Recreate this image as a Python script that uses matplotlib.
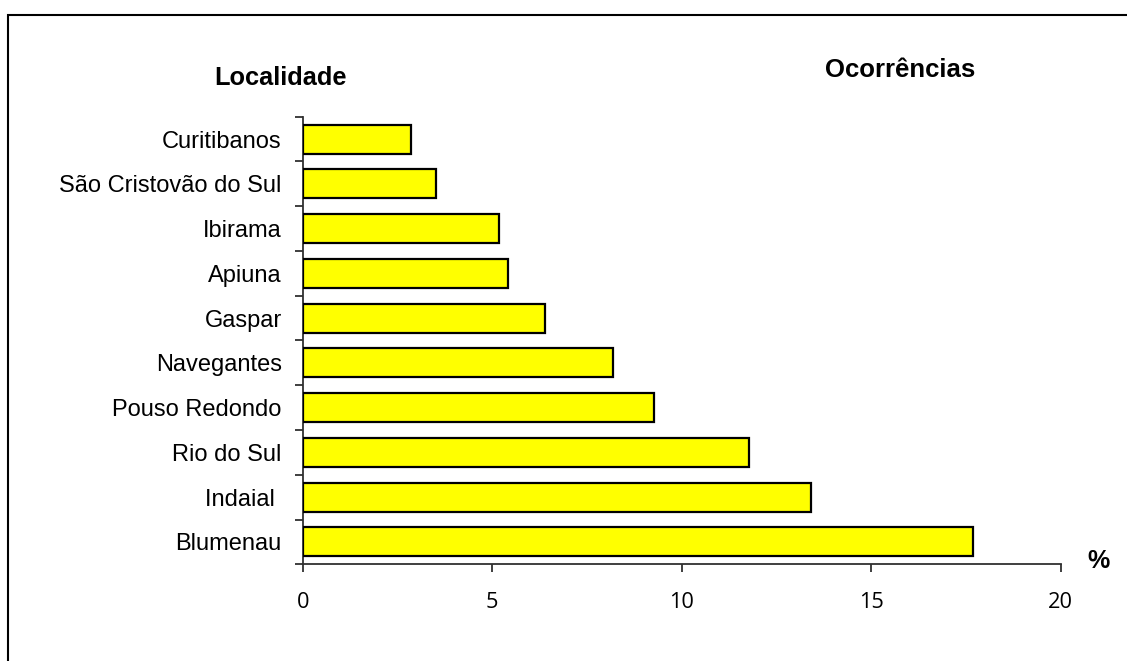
import matplotlib
matplotlib.use("Agg")
import matplotlib.pyplot as plt
from matplotlib.patches import Rectangle

categories = ["Curitibanos", "São Cristovão do Sul", "Ibirama", "Apiuna", "Gaspar",
              "Navegantes", "Pouso Redondo", "Rio do Sul", "Indaial ", "Blumenau"]
values = [2.86, 3.51, 5.18, 5.41, 6.39, 8.19, 9.26, 11.78, 13.41, 17.68]
xticks = [0, 5, 10, 15, 20]

W, H = 1127, 661
fig = plt.figure(figsize=(W / 100, H / 100), dpi=100)
ax = fig.add_axes([302.7 / W, 1 - 564.3 / H, (1060.7 - 302.7) / W, (564.3 - 116.7) / H])

n = len(categories)
ypos = list(range(n))
ax.barh(ypos, values, height=0.65, color="#FFFF00", edgecolor="black", linewidth=1.6, zorder=3)

ax.set_xlim(0, 20)
ax.set_ylim(n - 0.5, -0.5)
ax.set_xticks(xticks)
ax.set_xticklabels([str(t) for t in xticks], fontfamily="Open Sans", fontsize=15.7)

ax.set_yticks([i - 0.5 for i in range(n + 1)], minor=False)
ax.set_yticklabels([""] * (n + 1))
ax.set_yticks(ypos, minor=True)
ax.set_yticklabels(categories, minor=True, fontfamily="Liberation Sans", fontsize=17)
ax.tick_params(axis="y", which="minor", length=0, pad=15)
ax.tick_params(axis="y", which="major", length=5.5, width=1.3, color="#303030", direction="out")
ax.tick_params(axis="x", length=6, width=1.3, color="#303030", pad=14, direction="out")

for s in ["top", "right"]:
    ax.spines[s].set_visible(False)
for s in ["left", "bottom"]:
    ax.spines[s].set_linewidth(1.3)
    ax.spines[s].set_color("#303030")

fig.text(280 / W, 1 - 78 / H, "Localidade", ha="center", va="center",
         fontfamily="Liberation Sans", fontweight="bold", fontsize=18.3)
fig.text(900 / W, 1 - 70 / H, "Ocorrências", ha="center", va="center",
         fontfamily="Liberation Sans", fontweight="bold", fontsize=18.5)
fig.text(1099 / W, 1 - 561 / H, "%", ha="center", va="center",
         fontfamily="Liberation Sans", fontweight="bold", fontsize=18)

fig.patches.append(Rectangle((8 / W, -0.1), 1.2, 1.1 - 15 / H, transform=fig.transFigure,
                             fill=False, edgecolor="black", linewidth=1.5))

fig.savefig("out.png", dpi=100)
